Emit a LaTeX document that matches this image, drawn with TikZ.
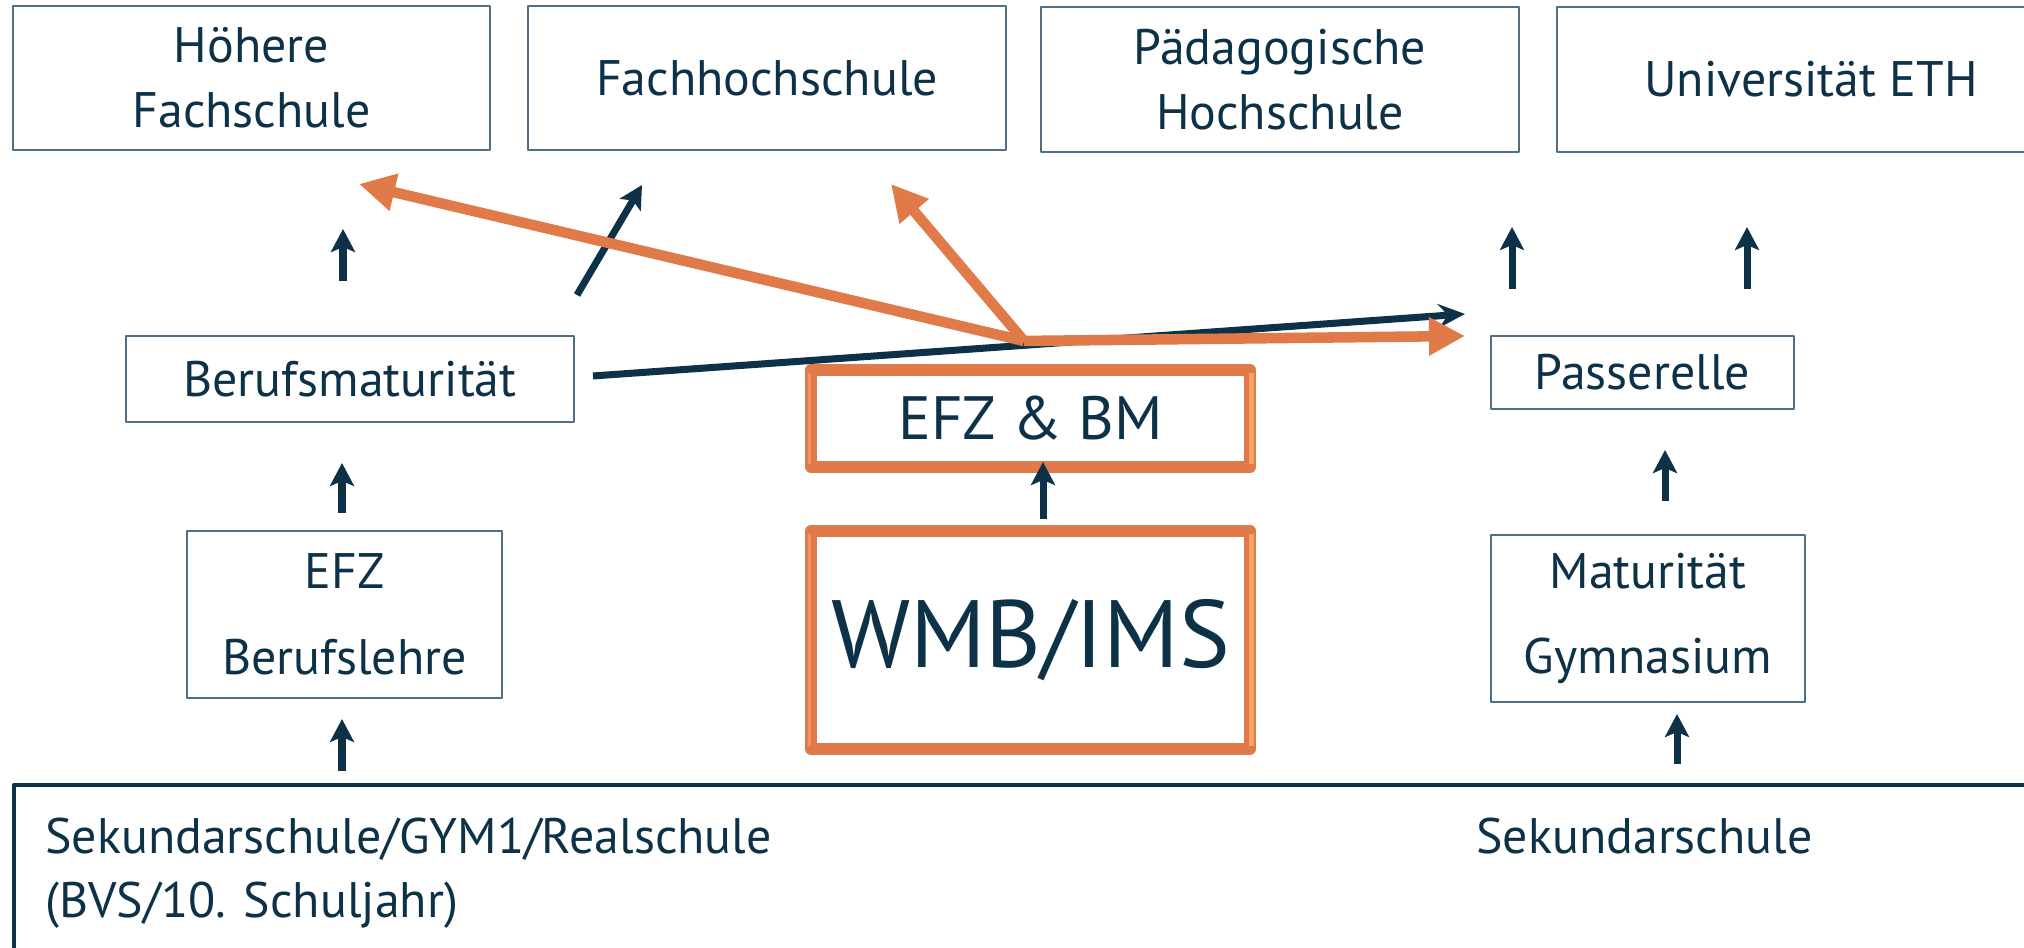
\documentclass[tikz,border=0pt]{standalone}
\usepackage{fontspec}
\setmainfont{PT Sans}
\usetikzlibrary{arrows.meta}
\definecolor{navy}{HTML}{0D3248}
\definecolor{rim}{HTML}{4F6F85}
\definecolor{ora}{HTML}{E07A48}
\definecolor{oralight}{HTML}{F6A36B}
\begin{document}
\begin{tikzpicture}[line join=round,font=\fontsize{14.2}{18.35}\selectfont,text=navy,
box/.style={draw=rim,line width=.75pt,align=center,inner sep=0pt},
orabox/.style={draw=ora,line width=1.2mm,align=center,inner sep=0pt},
up/.style={navy,line width=2pt,-{Stealth[length=2.3mm,width=2.4mm,inset=.5mm]}},
route/.style={ora,line width=3pt,-{Triangle[length=3.6mm,width=3.6mm]}}]
\useasboundingbox (0,0) rectangle (20.24,9.48);
\clip (0,0) rectangle (20.24,9.48);
% top row
\node[box,minimum width=4.77cm,minimum height=1.44cm] (hf) at (2.515,8.70) {Höhere\\Fachschule};
\node[box,minimum width=4.78cm,minimum height=1.44cm] (fh) at (7.67,8.70) {Fachhochschule};
\node[box,minimum width=4.78cm,minimum height=1.45cm] (ph) at (12.80,8.685) {Pädagogische\\Hochschule};
\node[box,minimum width=5.08cm,minimum height=1.45cm] (uni) at (18.11,8.685) {Universität ETH};
% middle
\node[box,minimum width=4.48cm,minimum height=.86cm] (bm) at (3.50,5.69) {Berufsmaturität};
\node[box,minimum width=3.03cm,minimum height=.73cm] (pa) at (16.425,5.755) {Passerelle};
\node[orabox,minimum width=4.39cm,minimum height=.97cm,font=\fontsize{17.4}{20}\selectfont] (efzbm) at (10.305,5.295) {EFZ \& BM};
\node[orabox,minimum width=4.39cm,minimum height=2.18cm,font=\fontsize{27.2}{30}\selectfont] (wmb) at (10.305,3.08) {WMB/IMS};
\node[box,minimum width=3.15cm,minimum height=1.67cm] (efz) at (3.445,3.335) {EFZ\\[6pt]Berufslehre};
\node[box,minimum width=3.14cm,minimum height=1.67cm] (mat) at (16.48,3.295) {Maturität\\[6pt]Gymnasium};
% bevel on the orange frames
\foreach \b in {efzbm,wmb}{
\draw[oralight,line width=.5mm] ([xshift=-.45mm,yshift=-.9mm]\b.north east)--([xshift=-.45mm,yshift=.9mm]\b.south east);
\draw[oralight!60!ora,line width=.35mm] ([xshift=.45mm,yshift=-.9mm]\b.north west)--([xshift=.45mm,yshift=.9mm]\b.south west);}
% bottom
\node[draw=navy,line width=1pt,minimum width=20.6cm,minimum height=2cm,anchor=north west] (sek) at (0.12,1.65) {};
\node[anchor=base west] (sekl) at (0.33,0.94) {Sekundarschule/GYM1/Realschule};
\node[anchor=base west] (bvs) at (0.33,0.30) {(BVS/10. Schuljahr)};
\node[anchor=base] (sekr) at (16.445,0.94) {Sekundarschule};
% arrows
\path (3.43,6.67) coordinate (hf0) (3.43,7.19) coordinate (hf1)
(3.42,4.35) coordinate (bm0) (3.42,4.85) coordinate (bm1)
(3.42,1.77) coordinate (efz0) (3.42,2.29) coordinate (efz1)
(15.12,6.59) coordinate (ph0) (15.12,7.21) coordinate (ph1)
(17.47,6.59) coordinate (uni0) (17.47,7.21) coordinate (uni1)
(16.65,4.47) coordinate (mat0) (16.65,4.98) coordinate (mat1)
(16.77,1.84) coordinate (sek0) (16.77,2.34) coordinate (sek1)
(5.77,6.53) coordinate (fh0) (6.42,7.63) coordinate (fh1)
(5.93,5.72) coordinate (pa0) (14.65,6.34) coordinate (pa1)
(10.24,6.07) coordinate (hub) (3.59,7.64) coordinate (hfo)
(8.91,7.64) coordinate (fho) (14.65,6.12) coordinate (pao);
\foreach \a in {hf,bm,efz,ph,uni,mat,sek} \draw[up] (\a0)--(\a1);
\draw[up,shorten <=.6mm,shorten >=-1.1mm] ([xshift=1.25mm]wmb.north)--([xshift=1.25mm]efzbm.south);
\draw[up] (fh0)--(fh1);
\draw[up,-{Stealth[length=2.7mm,width=2.4mm,inset=1mm]}] (pa0)--(pa1);
\foreach \t in {hfo,fho,pao} \draw[route] (hub)--(\t);
\end{tikzpicture}
\end{document}
